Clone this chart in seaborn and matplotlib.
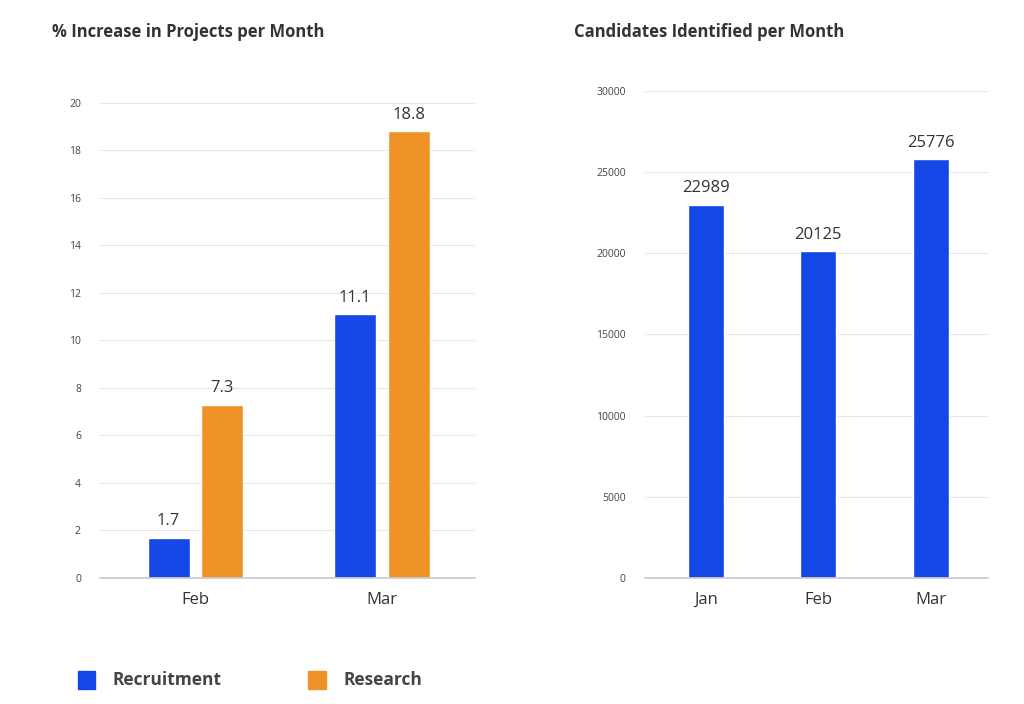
import matplotlib.pyplot as plt
import seaborn as sns
import pandas as pd

# data
proj_months = ["Feb", "Mar"]
recruitment_pct = [1.7, 11.1]
research_pct = [7.3, 18.8]

cand_months = ["Jan", "Feb", "Mar"]
candidates = [22989, 20125, 25776]

BLUE = "#1447E6"
ORANGE = "#EF9227"

sns.set_theme(style="white")
plt.rcParams['font.family'] = ['Open Sans', 'DejaVu Sans']

proj_df = pd.DataFrame({
    "month": proj_months * 2,
    "pct": recruitment_pct + research_pct,
    "team": ["Recruitment"] * 2 + ["Research"] * 2,
})
cand_df = pd.DataFrame({"month": cand_months, "count": candidates})

fig = plt.figure(figsize=(10.24, 7.04), dpi=100)
ax1 = fig.add_axes([0.098, 0.179, 0.366, 0.675])
ax2 = fig.add_axes([0.630, 0.179, 0.335, 0.692])

sns.barplot(data=proj_df, x="month", y="pct", hue="team", ax=ax1,
            palette=[BLUE, ORANGE], width=0.577, gap=0.22, legend=False,
            saturation=1)
sns.barplot(data=cand_df, x="month", y="count", ax=ax2, color=BLUE,
            width=0.32, saturation=1)

for ax, ymax, step, xlim in [(ax1, 20, 2, (-0.51, 1.5)), (ax2, 30000, 5000, (-0.54, 2.51))]:
    ax.set_ylim(0, ymax)
    ax.set_xlim(*xlim)
    ax.set_yticks(range(0, ymax + 1, step))
    ax.yaxis.grid(True, color="#e6e6e6", linewidth=0.8)
    ax.set_axisbelow(True)
    for s in ["left", "right", "top"]:
        ax.spines[s].set_visible(False)
    ax.spines["bottom"].set_color("#cccccc")
    ax.tick_params(axis="y", labelsize=7.5, labelcolor="#444444", length=0, pad=14)
    ax.tick_params(axis="x", labelsize=12, labelcolor="#333333", length=0, pad=10)
    ax.set_xlabel("")
    ax.set_ylabel("")
    for c in ax.containers:
        ax.bar_label(c, fmt="%g", padding=6, fontsize=12, color="#333333")

fig.text(0.051, 0.955, "% Increase in Projects per Month", fontsize=12,
         fontweight="bold", color="#333333", va="center")
fig.text(0.561, 0.955, "Candidates Identified per Month", fontsize=12,
         fontweight="bold", color="#333333", va="center")

# legend at the bottom
for x, label, col in [(0.076, "Recruitment", BLUE), (0.301, "Research", ORANGE)]:
    fig.patches.append(plt.Rectangle((x, 0.022), 0.017, 0.025, color=col,
                                     transform=fig.transFigure, figure=fig))
    fig.text(x + 0.034, 0.034, label, fontsize=12.5, fontweight="bold",
             color="#444444", va="center")

fig.savefig("out.png", dpi=100)
